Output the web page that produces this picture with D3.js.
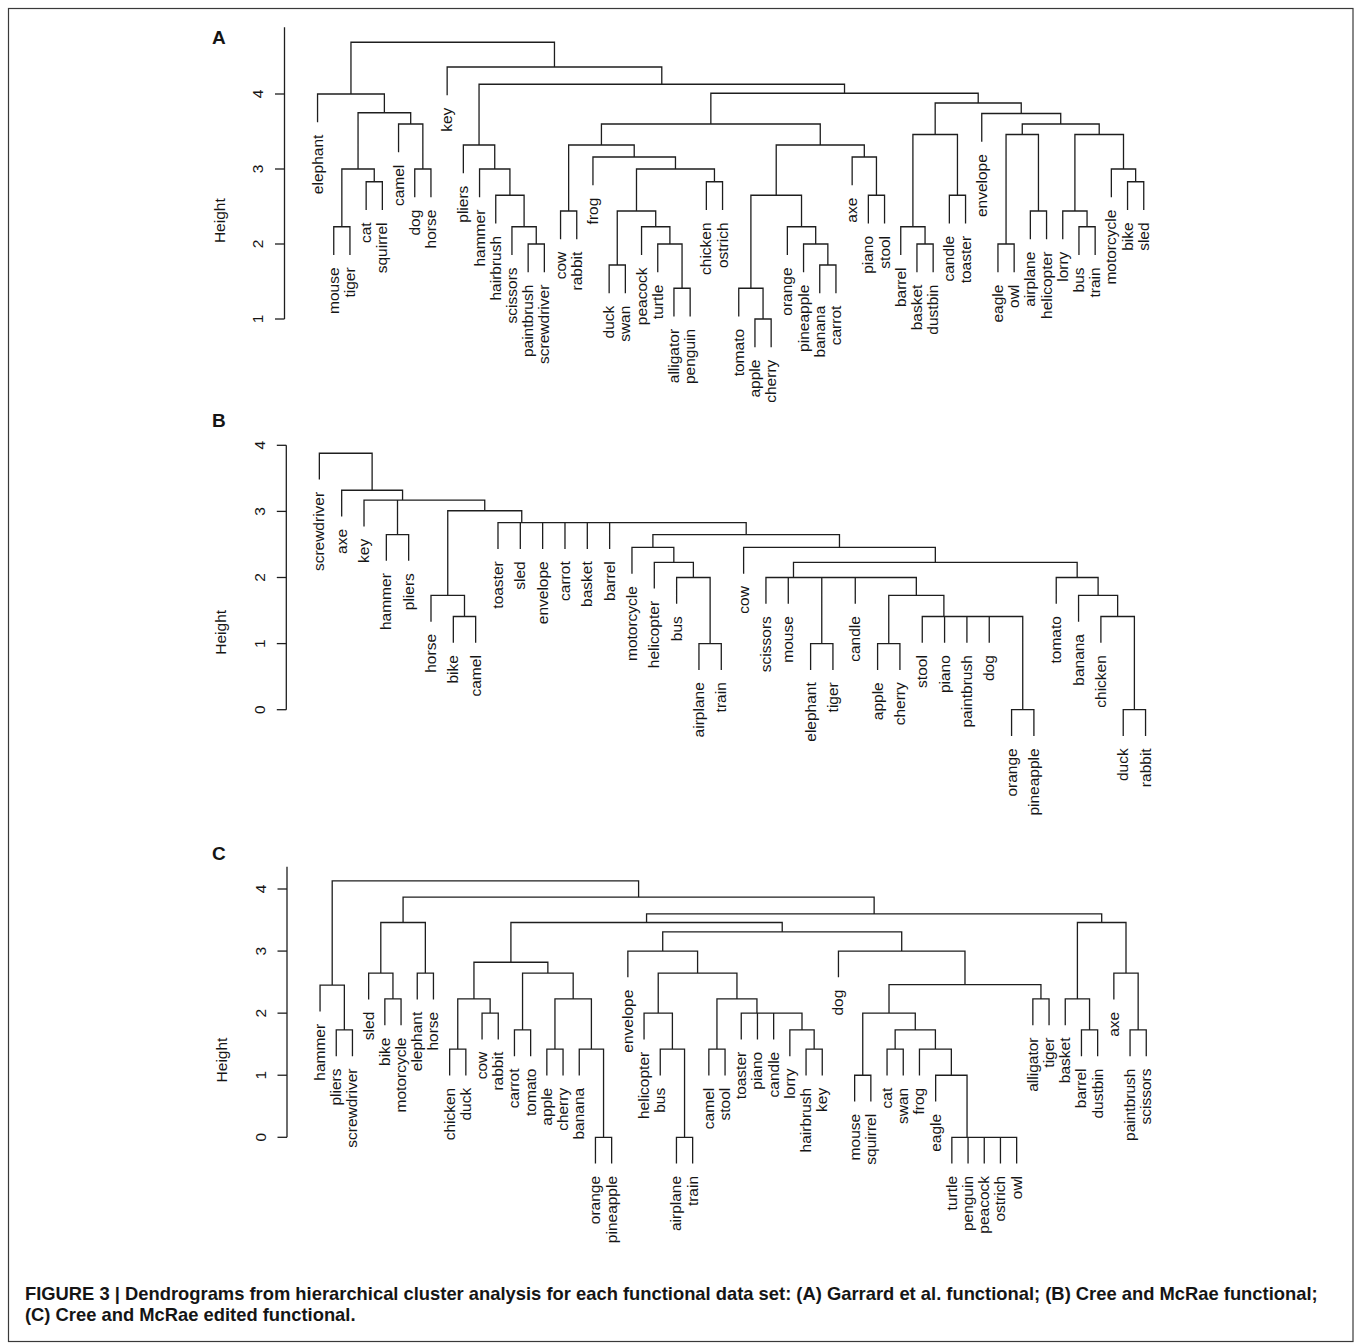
<!DOCTYPE html>
<html><head><meta charset="utf-8">
<script src="https://cdn.jsdelivr.net/npm/d3@7"></script>
<style>
body{margin:0;background:#fff}
svg text{font-family:"Liberation Sans",Arial,Helvetica,sans-serif;fill:#151515}
</style>
</head><body>
<svg id="chart" width="1354" height="1343"></svg>
<script>
// ---------------- DATA ----------------
// Dendrogram nodes: [mergeHeight, leftChild, rightChild]; leaves are label strings.
// Panel A
const A_elephant = [4.00, "elephant", [3.75, [3.00, [2.23, "mouse", "tiger"], [2.83, "cat", "squirrel"]], [3.60, "camel", [3.00, "dog", "horse"]]]];
const A_tools = [3.32, "pliers", [3.00, "hammer", [2.65, "hairbrush", [2.23, "scissors", [2.00, "paintbrush", "screwdriver"]]]]];
const A_animals = [3.32, [2.44, "cow", "rabbit"], [3.16, "frog", [3.00, [2.44, [1.72, "duck", "swan"], [2.23, "peacock", [2.00, "turtle", [1.41, "alligator", "penguin"]]]], [2.83, "chicken", "ostrich"]]]];
const A_food = [3.32, [2.65, [1.41, "tomato", [1.00, "apple", "cherry"]], [2.23, "orange", [2.00, "pineapple", [1.72, "banana", "carrot"]]]], [3.16, "axe", [2.65, "piano", "stool"]]];
const A_objects = [3.88, [3.46, [2.23, "barrel", [2.00, "basket", "dustbin"]], [2.65, "candle", "toaster"]], [3.74, "envelope", [3.60, [3.46, [2.00, "eagle", "owl"], [2.44, "airplane", "helicopter"]], [3.46, [2.44, "lorry", [2.23, "bus", "train"]], [3.00, "motorcycle", [2.83, "bike", "sled"]]]]]];
const treeA = [4.69, A_elephant, [4.36, "key", [4.13, A_tools, [4.01, [3.60, A_animals, A_food], A_objects]]]];

// Panel B
const B_vehicles = [2.455, "motorcycle", [2.23, "helicopter", [2.00, "bus", [1.00, "airplane", "train"]]]];
const B_acs = [1.73, [1.00, "apple", "cherry"], [1.41, "stool", [1.41, "piano", [1.41, "paintbrush", [1.41, "dog", [0.00, "orange", "pineapple"]]]]]];
const B_mid = [2.00, "scissors", [2.00, "mouse", [2.00, [1.00, "elephant", "tiger"], [2.00, "candle", B_acs]]]];
const B_produce = [2.00, "tomato", [1.73, "banana", [1.41, "chicken", [0.00, "duck", "rabbit"]]]];
const B_cluster = [2.65, B_vehicles, [2.455, "cow", [2.23, B_mid, B_produce]]];
const B_flat = [2.83, "toaster", [2.83, "sled", [2.83, "envelope", [2.83, "carrot", [2.83, "basket", [2.83, "barrel", B_cluster]]]]]];
const treeB = [3.88, "screwdriver", [3.32, "axe", [3.17, "key", [3.17, [2.65, "hammer", "pliers"], [3.01, [1.73, "horse", [1.41, "bike", "camel"]], B_flat]]]]];

// Panel C
const C_tools = [2.45, "hammer", [1.73, "pliers", "screwdriver"]];
const C_ride = [3.46, [2.645, "sled", [2.23, "bike", "motorcycle"]], [2.645, "elephant", "horse"]];
const C_food = [2.82, [2.23, [1.42, "chicken", "duck"], [2.00, "cow", "rabbit"]], [2.645, [1.73, "carrot", "tomato"], [2.23, [1.42, "apple", "cherry"], [1.42, "banana", [0.00, "orange", "pineapple"]]]]];
const C_transport = [2.00, "helicopter", [1.42, "bus", [0.00, "airplane", "train"]]];
const C_household = [2.23, [1.42, "camel", "stool"], [2.00, "toaster", [2.00, "piano", [2.00, "candle", [1.73, "lorry", [1.42, "hairbrush", "key"]]]]]];
const C_objects = [3.00, "envelope", [2.645, C_transport, C_household]];
const C_birds = [0.00, "turtle", [0.00, "penguin", [0.00, "peacock", [0.00, "ostrich", "owl"]]]];
const C_animals = [3.00, "dog", [2.46, [2.00, [1.00, "mouse", "squirrel"], [1.73, [1.42, "cat", "swan"], [1.42, "frog", [1.00, "eagle", C_birds]]]], [2.23, "alligator", "tiger"]]];
const C_containers = [3.46, [2.23, "basket", [1.73, "barrel", "dustbin"]], [2.645, "axe", [1.73, "paintbrush", "scissors"]]];
const treeC = [4.13, C_tools, [3.87, C_ride, [3.60, [3.46, C_food, [3.31, C_objects, C_animals]], C_containers]]];

const ticksA = [1, 2, 3, 4];
const ticksB = [0, 1, 2, 3, 4];
const ticksC = [0, 1, 2, 3, 4];
const axisExtentA = [1, 4.89];
const axisExtentB = [0, 4];
const axisExtentC = [0, 4.36];
const panelLetters = ["A", "B", "C"];
const yAxisTitle = "Height";
const captionLines = [
  "FIGURE 3 | Dendrograms from hierarchical cluster analysis for each functional data set: (A) Garrard et al. functional; (B) Cree and McRae functional;",
  "(C) Cree and McRae edited functional."
];

// ---------------- LAYOUT ----------------
const layouts = [
  {tree: treeA, ticks: ticksA, extent: axisExtentA, axisX: 284.5, yDom: [1, 4], yRng: [319, 94],     letterY: 44.3,  titleY: 220.7},
  {tree: treeB, ticks: ticksB, extent: axisExtentB, axisX: 286.3, yDom: [0, 4], yRng: [709.7, 445.3], letterY: 426.7, titleY: 632.3},
  {tree: treeC, ticks: ticksC, extent: axisExtentC, axisX: 287,   yDom: [0, 4], yRng: [1137.3, 889],  letterY: 860,   titleY: 1060}
];
const plotW = 892.3;
const FS = 15.5;
const INK = "#1e1e1e";

const svg = d3.select("#chart");

// border
svg.append("rect").attr("x", 8.5).attr("y", 8.5).attr("width", 1344.5).attr("height", 1333)
  .attr("fill", "none").attr("stroke", "#3a3a3a").attr("stroke-width", 1.2);

layouts.forEach((L, pi) => {
  const g = svg.append("g");
  const root = d3.hierarchy(L.tree, d => Array.isArray(d) ? d.slice(1) : null);
  const leaves = root.leaves();
  const n = leaves.length;
  const x = d3.scaleLinear().domain([1 - 0.04 * (n - 1), n + 0.04 * (n - 1)]).range([L.axisX, L.axisX + plotW]);
  const y = d3.scaleLinear().domain(L.yDom).range(L.yRng);

  leaves.forEach((lf, i) => { lf.xi = i + 1; });
  root.eachAfter(d => {
    if (d.children) { d.h = d.data[0]; d.xi = (d.children[0].xi + d.children[d.children.length - 1].xi) / 2; }
  });
  const internal = root.descendants().filter(d => d.children);
  const hMax = d3.max(internal, d => d.h), hMin = d3.min(internal, d => d.h);
  const hang = 0.1 * (hMax - hMin);
  leaves.forEach(lf => { lf.h = lf.parent.h - hang; });

  // branches
  const path = d3.path();
  internal.forEach(d => {
    const c0 = d.children[0], c1 = d.children[d.children.length - 1];
    path.moveTo(x(c0.xi), y(c0.h)); path.lineTo(x(c0.xi), y(d.h));
    path.lineTo(x(c1.xi), y(d.h)); path.lineTo(x(c1.xi), y(c1.h));
  });
  g.append("path").attr("d", path.toString()).attr("fill", "none")
    .attr("stroke", INK).attr("stroke-width", 1.3).attr("stroke-linecap", "square");

  // leaf labels
  g.selectAll("text.leaf").data(leaves).join("text").attr("class", "leaf")
    .attr("transform", d => `translate(${x(d.xi)},${y(d.h) + 13}) rotate(-90)`)
    .attr("text-anchor", "end").attr("dy", "0.32em")
    .style("font-size", FS + "px").text(d => d.data);

  // y axis
  const ax = g.append("g");
  ax.append("line").attr("x1", L.axisX).attr("x2", L.axisX)
    .attr("y1", y(L.extent[0])).attr("y2", y(L.extent[1])).attr("stroke", INK).attr("stroke-width", 1.3);
  ax.selectAll("line.tick").data(L.ticks).join("line").attr("class", "tick")
    .attr("x1", L.axisX - 9.5).attr("x2", L.axisX).attr("y1", d => y(d)).attr("y2", d => y(d))
    .attr("stroke", INK).attr("stroke-width", 1.3);
  ax.selectAll("text.tl").data(L.ticks).join("text").attr("class", "tl")
    .attr("transform", d => `translate(${L.axisX - 21.5},${y(d)}) rotate(-90)`)
    .attr("text-anchor", "middle").style("font-size", FS + "px").text(d => d);
  ax.append("text")
    .attr("transform", `translate(${L.axisX - 60},${L.titleY}) rotate(-90)`)
    .attr("text-anchor", "middle").style("font-size", FS + "px").text(yAxisTitle);

  // panel letter
  svg.append("text").attr("x", 212).attr("y", L.letterY)
    .style("font-size", "19px").style("font-weight", "bold").text(panelLetters[pi]);
});

// caption
const cap = svg.append("g");
const t1 = cap.append("text").attr("x", 25).attr("y", 1300).style("font-weight", "bold")
  .style("font-size", "15.5px").text(captionLines[0]);
const w = t1.node().getComputedTextLength();
const fs = 15.5 * 1293 / w;
t1.style("font-size", fs + "px");
cap.append("text").attr("x", 25).attr("y", 1321).style("font-weight", "bold")
  .style("font-size", fs + "px").text(captionLines[1]);
</script>
</body></html>
